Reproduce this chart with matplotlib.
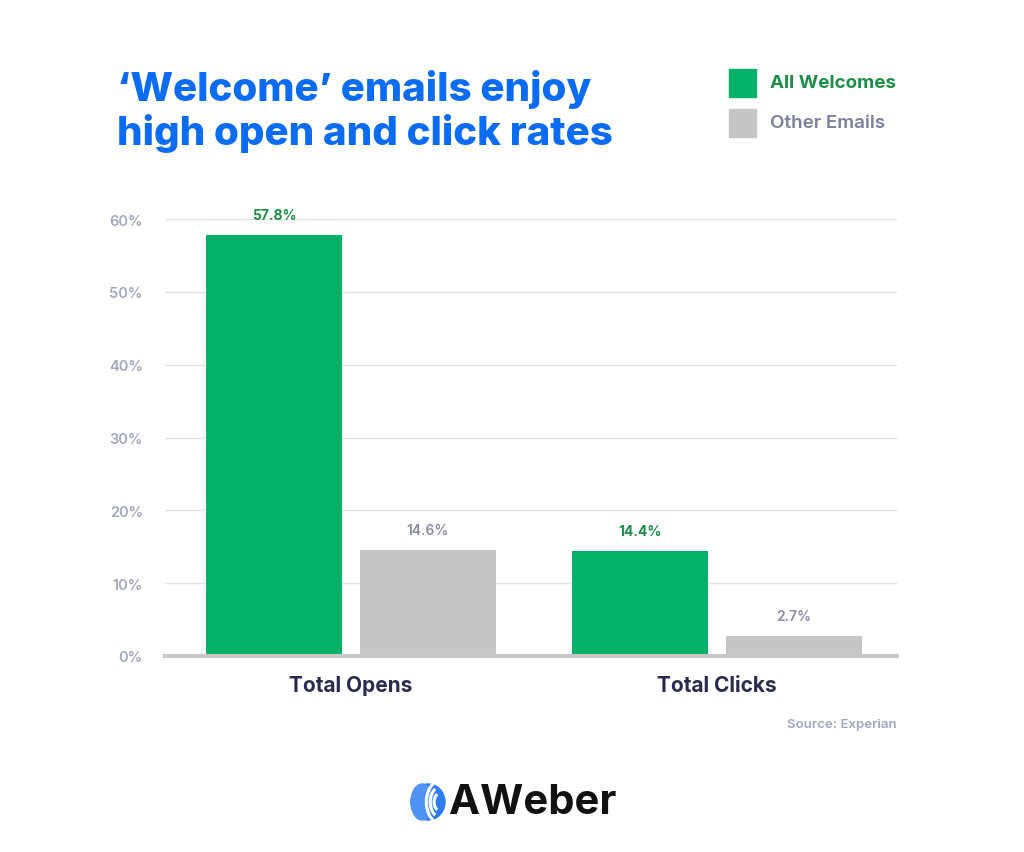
import matplotlib
matplotlib.use("Agg")
import matplotlib.pyplot as plt
from matplotlib.patches import Ellipse, Arc, FancyBboxPatch
import numpy as np

categories = ["Total Opens", "Total Clicks"]
series_names = ["All Welcomes", "Other Emails"]
welcome_vals = [57.8, 14.4]
other_vals = [14.6, 2.7]
yticks = [0, 10, 20, 30, 40, 50, 60]
ytick_labels = ["0%", "10%", "20%", "30%", "40%", "50%", "60%"]

GREEN = "#02b068"
GREEN_TXT = "#1b8f47"
GRAY = "#c6c6c6"
GRAY_TXT = "#8a8ca0"
BLUE = "#0a6cf5"
NAVY = "#2b2c4d"
TICK = "#a3a6bf"

FONT = "Inter"
plt.rcParams['font.family'] = [FONT, 'DejaVu Sans']

fig = plt.figure(figsize=(10.24, 8.53), dpi=100)
ax = fig.add_axes([165/1024, 1-657/853, 732/1024, 437/853])

x = np.arange(len(categories))
w = 0.372
off = 0.21
b1 = ax.bar(x - off, welcome_vals, w, color=GREEN, zorder=3)
b2 = ax.bar(x + off, other_vals, w, color=GRAY, zorder=3)

for rect, v in zip(b1, welcome_vals):
    ax.text(rect.get_x() + rect.get_width()/2, v + 1.8, f"{v}%", ha="center", va="bottom",
            fontsize=10, fontweight="bold", color=GREEN_TXT)
for rect, v in zip(b2, other_vals):
    ax.text(rect.get_x() + rect.get_width()/2, v + 1.8, f"{v}%", ha="center", va="bottom",
            fontsize=10, fontweight="semibold", color=GRAY_TXT)

shift = 3/366
ax.set_xlim(-0.5 - shift, 1.5 - shift)
ax.set_ylim(0, 60)
ax.set_yticks(yticks)
ax.set_yticklabels(ytick_labels)
ax.set_xticks(x)
ax.set_xticklabels(categories)
for lab in ax.get_yticklabels():
    lab.set_color(TICK); lab.set_fontsize(10.5); lab.set_fontweight("semibold")
for lab in ax.get_xticklabels():
    lab.set_color(NAVY); lab.set_fontsize(15); lab.set_fontweight("bold")
ax.tick_params(axis="y", length=0, pad=16)
ax.tick_params(axis="x", length=0, pad=14)
ax.grid(axis="y", color="#e2e2e2", linewidth=1, zorder=0)
for s in ["top", "right", "left"]:
    ax.spines[s].set_visible(False)
ax.spines["bottom"].set_color("#c8c8c8")
ax.spines["bottom"].set_linewidth(3)
ax.spines["bottom"].set_zorder(4)

# Title
fig.text(117/1024, 1-101/853, "‘Welcome’ emails enjoy", fontsize=29, fontweight="heavy",
         color=BLUE, ha="left", va="baseline")
fig.text(117/1024, 1-145/853, "high open and click rates", fontsize=29, fontweight="heavy",
         color=BLUE, ha="left", va="baseline")

# Legend
fig.patches.append(FancyBboxPatch((729/1024, 1-98/853), 27/1024, 28/853, boxstyle="square,pad=0",
                                  transform=fig.transFigure, color=GREEN, figure=fig))
fig.patches.append(FancyBboxPatch((729/1024, 1-138/853), 27/1024, 28/853, boxstyle="square,pad=0",
                                  transform=fig.transFigure, color=GRAY, figure=fig))
fig.text(770/1024, 1-84/853, series_names[0], fontsize=13.5, fontweight="bold", color=GREEN_TXT,
         ha="left", va="center")
fig.text(770/1024, 1-124/853, series_names[1], fontsize=13.5, fontweight="semibold", color="#7d8099",
         ha="left", va="center")

# Source
fig.text(897/1024, 1-725/853, "Source: Experian", fontsize=9.5, fontweight="semibold", color=TICK,
         ha="right", va="center")

# AWeber logo
lax = fig.add_axes([400/1024, 1-825/853, 50/1024, 45/853])
lax.set_xlim(0, 50); lax.set_ylim(0, 45); lax.axis("off")
lax.add_patch(Ellipse((28, 22), 34, 36, color="#2f7cf0"))
lax.add_patch(Ellipse((22, 22), 22, 36, color="#4f93f5"))
for r, lw in [(9, 2.2), (15, 2.2), (21, 2.2)]:
    lax.add_patch(Arc((40, 22), r*1.3, r*2.0, theta1=110, theta2=250, color="white", lw=lw))
fig.text(449/1024, 1-803/853, "AWeber", fontsize=30, fontweight="bold", color="#111111",
         ha="left", va="center")

fig.savefig("out.png", dpi=100, facecolor="white")
